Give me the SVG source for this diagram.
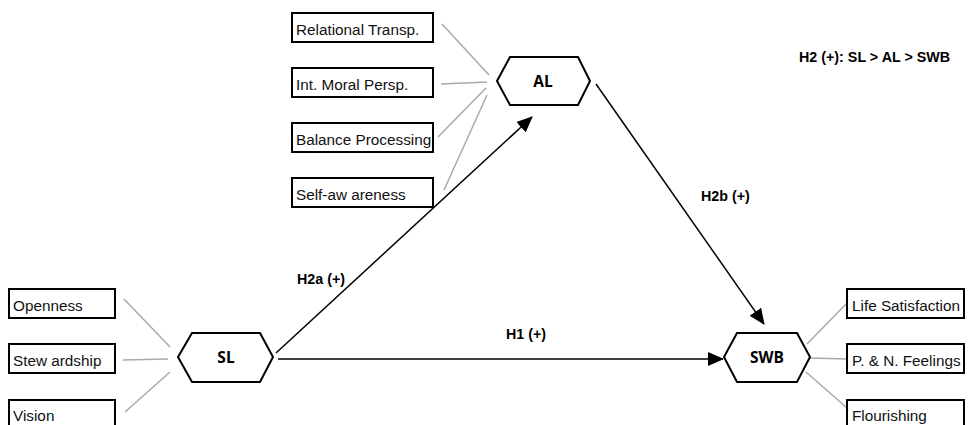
<svg xmlns="http://www.w3.org/2000/svg" width="968" height="425" viewBox="0 0 968 425">
<defs>
<style>
.box{fill:#fff;stroke:#000;stroke-width:2}
.bt{font-family:"Liberation Sans",Arial,sans-serif;font-size:15.3px;fill:#111}
.hex{fill:#fff;stroke:#000;stroke-width:2;stroke-linejoin:miter}
.ht{font-family:"Open Sans","Noto Sans",sans-serif;font-weight:700;font-size:15.5px;fill:#000;text-anchor:middle}
.ind{stroke:#aaa;stroke-width:1.5;fill:none}
.path{stroke:#000;stroke-width:1.5;fill:none;marker-end:url(#arr)}
.lab{font-family:"Liberation Sans",Arial,sans-serif;font-weight:700;font-size:14.3px;fill:#000}
</style>
<marker id="arr" markerUnits="userSpaceOnUse" markerWidth="16" markerHeight="14" viewBox="0 0 16 14" refX="15" refY="7" orient="auto">
<path d="M0,0 L16,7 L0,14 Z" fill="#000"/>
</marker>
</defs>
<rect width="968" height="425" fill="#fff"/>

<g id="connectors">
<line class="ind" x1="442" y1="24" x2="489" y2="75"/>
<line class="ind" x1="441" y1="84" x2="487" y2="82"/>
<line class="ind" x1="438" y1="137" x2="486" y2="88"/>
<line class="ind" x1="444" y1="190" x2="487" y2="95"/>
<line class="ind" x1="124" y1="299" x2="170" y2="347"/>
<line class="ind" x1="123" y1="360" x2="168" y2="359"/>
<line class="ind" x1="125" y1="412" x2="170" y2="372"/>
<line class="ind" x1="807" y1="344" x2="847" y2="303"/>
<line class="ind" x1="810" y1="358" x2="847" y2="359"/>
<line class="ind" x1="806" y1="372" x2="847" y2="408"/>
<line class="path" x1="276" y1="353" x2="532" y2="117"/>
<line class="path" x1="278" y1="359" x2="723" y2="359"/>
<line class="path" x1="596" y1="84" x2="764" y2="324"/>
</g>

<g id="node-rt"><rect class="box" x="292" y="13" width="141" height="29"/><text class="bt" x="296" y="35">Relational Transp.</text></g>
<g id="node-imp"><rect class="box" x="292" y="68" width="141" height="29"/><text class="bt" x="296" y="90">Int. Moral Persp.</text></g>
<g id="node-bp"><rect class="box" x="292" y="123" width="141" height="29"/><text class="bt" x="296" y="145">Balance Processing</text></g>
<g id="node-sa"><rect class="box" x="292" y="178" width="141" height="29"/><text class="bt" x="296" y="200">Self-aw areness</text></g>

<g id="node-open"><rect class="box" x="9" y="289" width="106" height="29"/><text class="bt" x="13" y="311">Openness</text></g>
<g id="node-stew"><rect class="box" x="9" y="344" width="106" height="29"/><text class="bt" x="13" y="366">Stew ardship</text></g>
<g id="node-vis"><rect class="box" x="9" y="400" width="106" height="29"/><text class="bt" x="13" y="421">Vision</text></g>

<g id="node-ls"><rect class="box" x="847" y="289" width="117" height="29"/><text class="bt" x="852" y="311">Life Satisfaction</text></g>
<g id="node-pn"><rect class="box" x="847" y="344" width="117" height="29"/><text class="bt" x="852" y="366">P. &amp; N. Feelings</text></g>
<g id="node-fl"><rect class="box" x="847" y="400" width="117" height="29"/><text class="bt" x="852" y="421">Flourishing</text></g>

<g id="node-al"><polygon class="hex" points="497,81 510,57 578,57 590,81 578,105 510,105"/><text class="ht" x="543" y="87">AL</text></g>
<g id="node-sl"><polygon class="hex" points="178,357 192,333 260,333 273,357 260,382 192,382"/><text class="ht" x="226" y="363">SL</text></g>
<g id="node-swb"><polygon class="hex" points="724,357 737,333 797,333 810,357 797,382 737,382"/><text class="ht" x="767" y="363">SWB</text></g>

<g id="labels">
<text class="lab" x="297" y="284">H2a (+)</text>
<text class="lab" x="701" y="201">H2b (+)</text>
<text class="lab" x="506" y="339">H1 (+)</text>
<text class="lab" x="799" y="62">H2 (+): SL &gt; AL &gt; SWB</text>
</g>
</svg>
